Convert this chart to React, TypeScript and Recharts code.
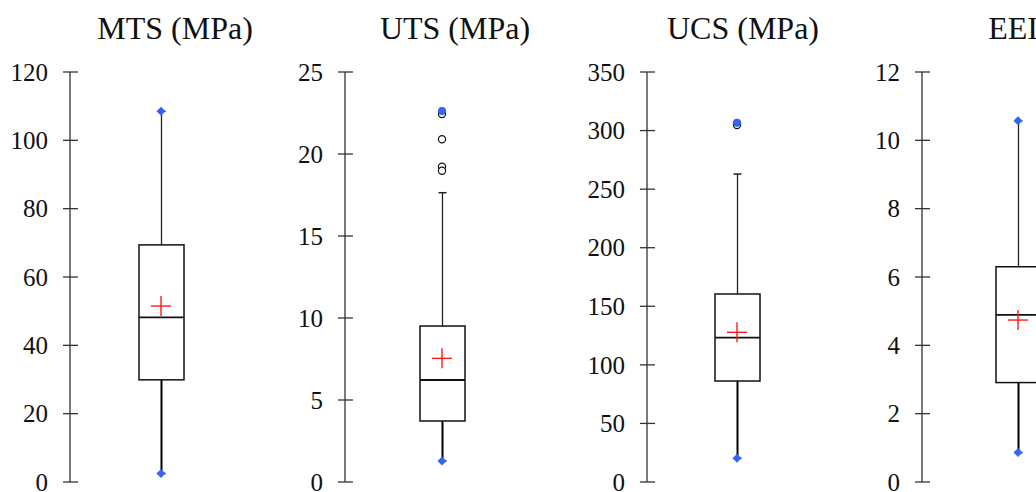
import React from "react";
import {
  ComposedChart,
  Bar,
  Scatter,
  XAxis,
  YAxis
} from "recharts";

// box plot statistics, one entry per property
const titles = ["MTS (MPa)", "UTS (MPa)", "UCS (MPa)", "EEI"];
const lowWhiskers = [2.5, 1.28, 20.2, 0.86];
const q1Values = [29.9, 3.72, 86.2, 2.91];
const medians = [48.2, 6.22, 123.2, 4.89];
const q3Values = [69.4, 9.51, 160.5, 6.3];
const highWhiskers = [108.5, 17.64, 262.9, 10.57];
const means = [51.5, 7.54, 127.8, 4.74];
const minValues = [2.5, 1.28, 20.2, 0.86];
const maxValues = [108.5, 22.62, 306.7, 10.57];
const outliers = [[], [22.44, 20.9, 19.22, 18.98], [304.8], []];

const axisMax = [120, 25, 350, 12];
const axisTicks = [
  [0, 20, 40, 60, 80, 100, 120],
  [0, 5, 10, 15, 20, 25],
  [0, 50, 100, 150, 200, 250, 300, 350],
  [0, 2, 4, 6, 8, 10, 12]
];

// layout
const WIDTH = 1036;
const HEIGHT = 492;
const AXIS_W = 70;
const TICK_SIZE = 7;
const TICK_MARGIN = 15;
const axisX = [70, 345, 647, 922];
const boxX = [161, 442, 737, 1018];
const titleX = [175, 455, 743, 1013];
const FONT = "'Times New Roman', 'Liberation Serif', serif";
const BLUE = "#3366f5";

const AxisTick = (props: any) => {
  const { x, y, payload } = props;
  const ax = x + TICK_MARGIN + TICK_SIZE;
  return (
    <g>
      <line x1={ax} x2={ax + 8} y1={y} y2={y} stroke="#333" strokeWidth={1.3} />
      <text
        x={x}
        y={y}
        dy="0.35em"
        textAnchor="end"
        style={{ fontFamily: FONT, fontSize: 25, fill: "#111" }}
      >
        {payload.value}
      </text>
    </g>
  );
};

// whisker bar spans low..high; the q1 point splits it into the two segments
const WhiskerShape = (props: any) => {
  const { x, y, width, height, payload } = props;
  const cx = x + width / 2;
  const [low, high] = payload.whisker;
  const yQ1 = y + (height * (high - payload.q1)) / (high - low);
  return (
    <g>
      <line x1={cx} x2={cx} y1={y} y2={yQ1} stroke="#222" strokeWidth={1.3} />
      <line x1={cx} x2={cx} y1={yQ1} y2={y + height} stroke="#000" strokeWidth={2} />
      <line x1={cx - 4} x2={cx + 4} y1={y} y2={y} stroke="#222" strokeWidth={1.5} />
      <line x1={cx - 4} x2={cx + 4} y1={y + height} y2={y + height} stroke="#000" strokeWidth={1.5} />
    </g>
  );
};

const BoxShape = (props: any) => {
  const { x, y, width, height, payload } = props;
  const yMed = y + (height * (payload.q3 - payload.median)) / (payload.q3 - payload.q1);
  return (
    <g>
      <rect x={x} y={y} width={width} height={height} fill="#fff" stroke="#111" strokeWidth={1.5} />
      <line x1={x} x2={x + width} y1={yMed} y2={yMed} stroke="#111" strokeWidth={1.8} />
    </g>
  );
};

const MeanShape = (props: any) => {
  const { cx, cy } = props;
  return (
    <g stroke="#ff1a1a" strokeWidth={1.4}>
      <line x1={cx - 10} x2={cx + 10} y1={cy} y2={cy} />
      <line x1={cx} x2={cx} y1={cy - 10} y2={cy + 10} />
    </g>
  );
};

const DiamondShape = (props: any) => {
  const { cx, cy } = props;
  const r = 4.5;
  return (
    <path
      d={`M${cx},${cy - r}L${cx + r},${cy}L${cx},${cy + r}L${cx - r},${cy}Z`}
      fill={BLUE}
    />
  );
};

const OpenDot = (props: any) => (
  <circle cx={props.cx} cy={props.cy} r={3.6} fill="#fff" stroke="#111" strokeWidth={1.2} />
);

const BlueDot = (props: any) => (
  <circle cx={props.cx} cy={props.cy} r={3.8} fill={BLUE} stroke="#2a4fc0" strokeWidth={0.6} />
);

function Panel({ i }: { i: number }) {
  const name = titles[i];
  const data = [
    {
      name,
      whisker: [lowWhiskers[i], highWhiskers[i]],
      box: [q1Values[i], q3Values[i]],
      q1: q1Values[i],
      median: medians[i],
      q3: q3Values[i]
    }
  ];
  const plotW = 2 * (boxX[i] - axisX[i]);
  const maxIsOutlier = maxValues[i] > highWhiskers[i];
  const extremes = [{ name, value: minValues[i] }].concat(
    maxIsOutlier ? [] : [{ name, value: maxValues[i] }]
  );
  const openDots = outliers[i].map((value) => ({ name, value }));

  return (
    <div style={{ position: "absolute", left: axisX[i] - AXIS_W, top: 0 }}>
      <ComposedChart
        width={AXIS_W + plotW}
        height={HEIGHT}
        data={data}
        margin={{ top: 72, right: 0, bottom: 10, left: 0 }}
        barGap={-45}
      >
        <XAxis dataKey="name" type="category" allowDuplicatedCategory={false} hide />
        <YAxis
          width={AXIS_W}
          domain={[0, axisMax[i]]}
          ticks={axisTicks[i]}
          interval={0}
          tickSize={TICK_SIZE}
          tickMargin={TICK_MARGIN}
          tick={<AxisTick />}
          tickLine={{ stroke: "#333", strokeWidth: 1.3 }}
          axisLine={{ stroke: "#333", strokeWidth: 1.3 }}
        />
        <Bar dataKey="whisker" barSize={45} shape={<WhiskerShape />} isAnimationActive={false} />
        <Bar dataKey="box" barSize={45} shape={<BoxShape />} isAnimationActive={false} />
        {openDots.length > 0 && (
          <Scatter data={openDots} dataKey="value" shape={<OpenDot />} isAnimationActive={false} />
        )}
        {maxIsOutlier && (
          <Scatter
            data={[{ name, value: maxValues[i] }]}
            dataKey="value"
            shape={<BlueDot />}
            isAnimationActive={false}
          />
        )}
        <Scatter data={extremes} dataKey="value" shape={<DiamondShape />} isAnimationActive={false} />
        <Scatter
          data={[{ name, value: means[i] }]}
          dataKey="value"
          shape={<MeanShape />}
          isAnimationActive={false}
        />
      </ComposedChart>
    </div>
  );
}

export default function App() {
  return (
    <div
      style={{
        position: "absolute",
        left: 0,
        top: 0,
        width: WIDTH,
        height: HEIGHT,
        overflow: "hidden",
        background: "#fff",
        fontFamily: FONT
      }}
    >
      {titles.map((t, i) => (
        <Panel key={t} i={i} />
      ))}
      {titles.map((t, i) => (
        <div
          key={"title-" + t}
          style={{
            position: "absolute",
            left: titleX[i] - 100,
            width: 200,
            top: 12,
            textAlign: "center",
            fontSize: 32,
            lineHeight: "32px",
            color: "#111",
            whiteSpace: "nowrap"
          }}
        >
          {t}
        </div>
      ))}
    </div>
  );
}
